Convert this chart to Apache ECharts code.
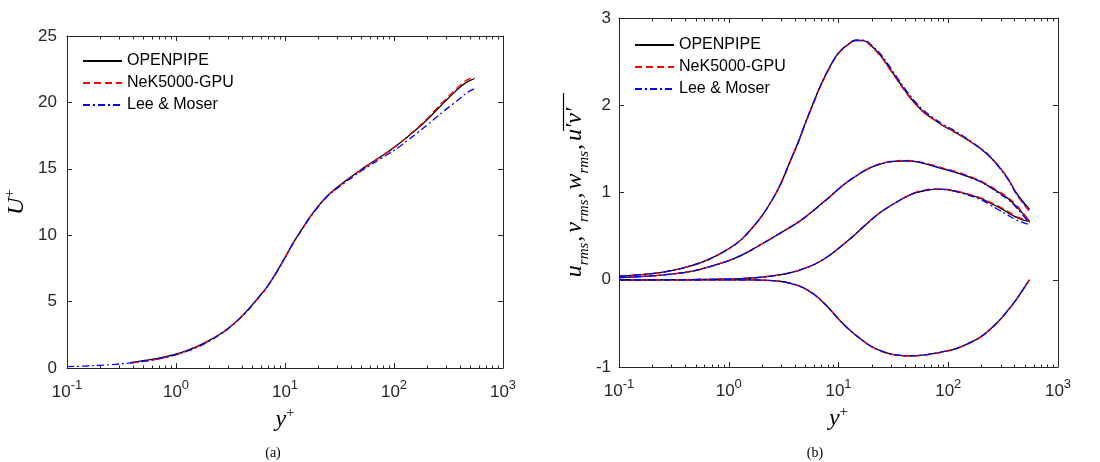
<!DOCTYPE html>
<html><head><meta charset="utf-8">
<script src="https://cdn.jsdelivr.net/npm/echarts@6/dist/echarts.min.js"></script>
<style>html,body{margin:0;padding:0;background:#fff}#c{width:1100px;height:462px}</style>
</head><body><div id="c"></div>
<script>
// ---------- data: (a) mean velocity ----------
const yPlusU = [0.1,0.15,0.2,0.28,0.38,0.5,0.65,0.8,1.0,1.3,1.6,2.0,2.5,3.0,3.6,4.3,5.0,6.0,7.0,8.5,10,12,14.5,17,20,24,29,35,42,50,60,75,90,110,135,165,200,240,290,350,410,470,550];
const uOpenpipe = [null,null,null,null,0.4,0.55,0.7,0.86,1.04,1.36,1.66,2.06,2.52,2.98,3.53,4.15,4.75,5.52,6.22,7.32,8.32,9.48,10.53,11.39,12.15,12.9,13.5,14.02,14.5,14.95,15.38,15.9,16.33,16.86,17.45,18.05,18.68,19.33,20.02,20.68,21.2,21.55,21.8];
const uNek = [null,null,null,null,0.37,0.5,0.64,0.8,1.0,1.32,1.63,2.03,2.5,2.96,3.51,4.13,4.73,5.51,6.21,7.31,8.31,9.46,10.51,11.37,12.12,12.87,13.47,13.99,14.47,14.92,15.35,15.88,16.32,16.86,17.48,18.1,18.75,19.45,20.15,20.8,21.35,21.7,21.9];
const uLeeMoser = [0.1,0.15,0.2,0.28,0.38,0.5,0.65,0.8,1.0,1.3,1.6,2.0,2.48,2.95,3.5,4.12,4.72,5.5,6.2,7.3,8.3,9.45,10.5,11.35,12.1,12.85,13.43,13.93,14.4,14.83,15.25,15.75,16.15,16.62,17.18,17.73,18.28,18.83,19.38,19.9,20.35,20.75,21.05];

// ---------- data: (b) fluctuations ----------
const yPlusR = [0.1,0.2,0.3,0.45,0.65,1.0,1.3,1.6,2.0,2.5,3.0,3.6,4.3,5.0,6.0,7.0,8.5,10,12,14.5,17,20,24,29,35,42,50,60,75,90,110,135,165,200,240,290,350,410,470,550];
const urmsOpenpipe = [0.04,0.07,0.105,0.16,0.23,0.355,0.46,0.58,0.73,0.92,1.11,1.35,1.58,1.8,2.05,2.25,2.46,2.6,2.69,2.745,2.74,2.68,2.575,2.43,2.28,2.14,2.02,1.92,1.83,1.765,1.705,1.64,1.57,1.495,1.41,1.295,1.16,1.01,0.91,0.81];
const urmsNek = [0.04,0.07,0.105,0.16,0.23,0.355,0.46,0.58,0.73,0.92,1.1,1.34,1.57,1.79,2.04,2.24,2.45,2.59,2.685,2.74,2.735,2.67,2.565,2.42,2.27,2.13,2.015,1.915,1.83,1.765,1.705,1.64,1.57,1.5,1.415,1.3,1.16,1.0,0.89,0.78];
const urmsLeeMoser = [0.04,0.07,0.105,0.16,0.23,0.355,0.46,0.58,0.73,0.92,1.11,1.35,1.58,1.8,2.05,2.25,2.46,2.6,2.69,2.745,2.745,2.69,2.59,2.45,2.3,2.16,2.04,1.94,1.845,1.78,1.72,1.65,1.575,1.5,1.41,1.29,1.15,1.0,0.9,0.8];
const wrmsOpenpipe = [0.025,0.045,0.065,0.095,0.145,0.22,0.28,0.34,0.41,0.48,0.54,0.6,0.66,0.72,0.8,0.87,0.96,1.04,1.12,1.19,1.245,1.29,1.325,1.35,1.36,1.362,1.355,1.335,1.3,1.27,1.24,1.205,1.165,1.12,1.065,1.0,0.93,0.85,0.77,0.67];
const wrmsNek = [0.025,0.045,0.065,0.095,0.145,0.22,0.28,0.34,0.41,0.48,0.54,0.6,0.66,0.72,0.8,0.87,0.96,1.04,1.12,1.19,1.245,1.29,1.33,1.355,1.365,1.367,1.36,1.34,1.31,1.28,1.25,1.215,1.175,1.13,1.075,1.01,0.945,0.865,0.78,0.67];
const wrmsLeeMoser = [0.025,0.045,0.065,0.095,0.145,0.22,0.28,0.34,0.41,0.48,0.54,0.6,0.66,0.72,0.8,0.87,0.96,1.04,1.12,1.19,1.245,1.29,1.325,1.35,1.36,1.362,1.355,1.335,1.3,1.27,1.24,1.205,1.165,1.12,1.06,0.99,0.92,0.84,0.75,0.65];
const vrmsOpenpipe = [0,0,0.001,0.002,0.004,0.008,0.013,0.02,0.03,0.044,0.06,0.08,0.105,0.135,0.175,0.22,0.29,0.36,0.44,0.53,0.61,0.69,0.77,0.84,0.9,0.955,0.995,1.02,1.035,1.035,1.02,0.995,0.965,0.93,0.88,0.83,0.77,0.72,0.69,0.67];
const vrmsNek = [0,0,0.001,0.002,0.004,0.008,0.013,0.02,0.03,0.044,0.06,0.08,0.105,0.135,0.175,0.22,0.29,0.36,0.44,0.53,0.61,0.69,0.77,0.84,0.9,0.955,1.0,1.025,1.04,1.04,1.025,1.0,0.97,0.935,0.89,0.84,0.785,0.73,0.7,0.67];
const vrmsLeeMoser = [0,0,0.001,0.002,0.004,0.008,0.013,0.02,0.03,0.044,0.06,0.08,0.105,0.135,0.175,0.22,0.29,0.36,0.44,0.53,0.61,0.69,0.77,0.84,0.9,0.955,0.995,1.02,1.035,1.035,1.02,0.99,0.955,0.915,0.86,0.8,0.74,0.69,0.66,0.63];
const uvOpenpipe = [0,0,0,0,0,-0.001,-0.001,-0.002,-0.004,-0.01,-0.02,-0.04,-0.068,-0.105,-0.17,-0.24,-0.35,-0.45,-0.55,-0.64,-0.705,-0.765,-0.812,-0.848,-0.865,-0.872,-0.87,-0.862,-0.845,-0.825,-0.8,-0.76,-0.71,-0.65,-0.57,-0.47,-0.35,-0.24,-0.13,0.0];
const uvNek = [0,0,0,0,0,-0.001,-0.001,-0.002,-0.004,-0.01,-0.02,-0.04,-0.068,-0.105,-0.17,-0.24,-0.35,-0.45,-0.55,-0.64,-0.708,-0.768,-0.815,-0.85,-0.867,-0.874,-0.872,-0.864,-0.847,-0.827,-0.802,-0.762,-0.712,-0.652,-0.572,-0.472,-0.352,-0.24,-0.13,0.0];
const uvLeeMoser = [0,0,0,0,0,-0.001,-0.001,-0.002,-0.004,-0.01,-0.02,-0.04,-0.068,-0.105,-0.17,-0.24,-0.35,-0.45,-0.55,-0.64,-0.705,-0.765,-0.812,-0.848,-0.865,-0.872,-0.87,-0.862,-0.845,-0.825,-0.8,-0.76,-0.71,-0.65,-0.57,-0.47,-0.35,-0.24,-0.13,0.0];

// ---------- axis ticks / labels ----------
const minorTicks = [0.2,0.3,0.4,0.5,0.6,0.7,0.8,0.9,2,3,4,5,6,7,8,9,20,30,40,50,60,70,80,90,200,300,400,500,600,700,800,900];
const names = ['OPENPIPE','NeK5000-GPU','Lee & Moser'];
const captions = ['(a)','(b)'];

const STY = {
  'OPENPIPE': {color:'#000000', type:'solid', z:2},
  'NeK5000-GPU': {color:'#ff0000', type:[7,4], z:3},
  'Lee & Moser': {color:'#0000ff', type:[7,3,2,3], z:4}
};
const AX = '#262626';
const SANS = '"Liberation Sans", Arial, Helvetica, sans-serif';
const SERIF = '"Liberation Serif", "DejaVu Serif", "Times New Roman", serif';

function ls(name, xi, yi, xs, ys){
  const s = STY[name];
  return {type:'line', name, xAxisIndex:xi, yAxisIndex:yi,
    data: xs.map((x,i)=>[x, ys[i]]), symbol:'none', showSymbol:false,
    smooth:0.4, z:s.z, silent:true,
    lineStyle:{color:s.color, width:1.3, type:s.type},
    itemStyle:{color:s.color}};
}
function minorSeries(xi, yi, ybase){
  return {type:'custom', xAxisIndex:xi, yAxisIndex:yi, silent:true, z:1,
    data: minorTicks.map(v=>[v, ybase]),
    renderItem(params, api){
      const p = api.coord([api.value(0), api.value(1)]);
      const x = Math.round(p[0]) + 0.5;
      const cs = params.coordSys;
      const yb = Math.round(cs.y + cs.height) + 0.5, yt = Math.round(cs.y) + 0.5;
      return {type:'group', children:[
        {type:'line', shape:{x1:x,y1:yb,x2:x,y2:yb-3}, style:{stroke:AX,lineWidth:1}},
        {type:'line', shape:{x1:x,y1:yt,x2:x,y2:yt+3}, style:{stroke:AX,lineWidth:1}}
      ]};
    }};
}
const tickRich = {
  b:{fontSize:17, fontFamily:SANS, color:AX, verticalAlign:'bottom'},
  e:{fontSize:13, fontFamily:SANS, color:AX, verticalAlign:'bottom', padding:[0,0,9,0]}
};
const nameRich = {
  i:{fontSize:24, fontFamily:SERIF, fontStyle:'italic', color:'#000', verticalAlign:'bottom'},
  s:{fontSize:15, fontFamily:SERIF, color:'#000', verticalAlign:'bottom', padding:[0,0,11,0]}};
function logX(gi, pos, showLabel, nameTxt){
  return {type:'log', logBase:10, gridIndex:gi, position:pos, min:0.1, max:1000,
    axisLine:{show:true, onZero:false, lineStyle:{color:AX, width:1}},
    axisTick:{show:true, inside:true, length:5, lineStyle:{color:AX}},
    splitLine:{show:false}, minorTick:{show:false},
    axisLabel:{show:showLabel, margin:11,
      formatter:(v)=>'{b|10}{e|' + Math.round(Math.log10(v)) + '}', rich:tickRich},
    name: nameTxt || '', nameLocation:'middle', nameGap:37,
    nameTextStyle:{rich:nameRich}
  };
}
function linY(gi, pos, min, max, showLabel, margin){
  return {type:'value', gridIndex:gi, position:pos, min, max, interval:(max-min>10?5:1),
    axisLine:{show:true, onZero:false, lineStyle:{color:AX, width:1}},
    axisTick:{show:true, inside:true, length:5, lineStyle:{color:AX}},
    splitLine:{show:false},
    axisLabel:{show:showLabel, margin:margin, fontSize:17, fontFamily:SANS, color:AX}};
}

const yl = linY(0,'left',0,25,true,10);
yl.name = '{i|U}{s|+}'; yl.nameLocation='middle'; yl.nameGap=38;
yl.nameTextStyle = {rich:nameRich};
const yr = linY(1,'left',-1,3,true,8);
yr.name = '{i|u}{s|rms}{c|,}{i|v}{s|rms}{c|,}{i|w}{s|rms}{c|,}{i|u′v′}';
yr.nameLocation='middle'; yr.nameGap=27;
yr.nameTextStyle = {rich:{
  i:{fontSize:24, fontFamily:SERIF, fontStyle:'italic', color:'#000', verticalAlign:'bottom', padding:[0,0,5,0]},
  c:{fontSize:24, fontFamily:SERIF, color:'#000', verticalAlign:'bottom', padding:[0,3,5,1]},
  s:{fontSize:15, fontFamily:SERIF, fontStyle:'italic', color:'#000', verticalAlign:'bottom'}}};

const series = [];
series.push(ls(names[0],0,0,yPlusU,uOpenpipe));
series.push(ls(names[1],0,0,yPlusU,uNek));
series.push(ls(names[2],0,0,yPlusU,uLeeMoser));
const sets = [[urmsOpenpipe,wrmsOpenpipe,vrmsOpenpipe,uvOpenpipe],[urmsNek,wrmsNek,vrmsNek,uvNek],[urmsLeeMoser,wrmsLeeMoser,vrmsLeeMoser,uvLeeMoser]];
sets.forEach((arrs,k)=>arrs.forEach(a=>series.push(ls(names[k],2,2,yPlusR,a))));
series.push(minorSeries(0,0,0));
series.push(minorSeries(2,2,-1));

const legendBase = {orient:'vertical', itemWidth:39, itemHeight:14, padding:0, selectedMode:false,
  itemStyle:{opacity:0, borderWidth:0},
  data:names, textStyle:{fontSize:16, fontFamily:SANS, color:'#000', lineHeight:16}};

const option = {
  animation:false,
  backgroundColor:'#ffffff',
  grid:[
    {left:67, top:36, width:436, height:332},
    {left:619, top:18, width:439, height:349}
  ],
  xAxis:[
    logX(0,'bottom',true,'{i|y}{s|+}'),
    logX(0,'top',false),
    logX(1,'bottom',true,'{i|y}{s|+}'),
    logX(1,'top',false)
  ],
  yAxis:[
    yl,
    linY(0,'right',0,25,false,8),
    yr,
    linY(1,'right',-1,3,false,8)
  ],
  legend:[
    Object.assign({}, legendBase, {left:82, top:53, itemGap:6}),
    Object.assign({}, legendBase, {left:634, top:37, itemGap:6})
  ],
  graphic:[
    {type:'text', x:273, y:446, style:{text:captions[0], font:'14px '+SERIF, fill:'#000', textAlign:'center'}},
    {type:'text', x:815, y:446, style:{text:captions[1], font:'14px '+SERIF, fill:'#000', textAlign:'center'}},
    {type:'line', shape:{x1:563.5,y1:93,x2:563.5,y2:131}, style:{stroke:'#000', lineWidth:1.2}}
  ],
  series
};
const chart = echarts.init(document.getElementById('c'));
chart.setOption(option);
</script></body></html>
